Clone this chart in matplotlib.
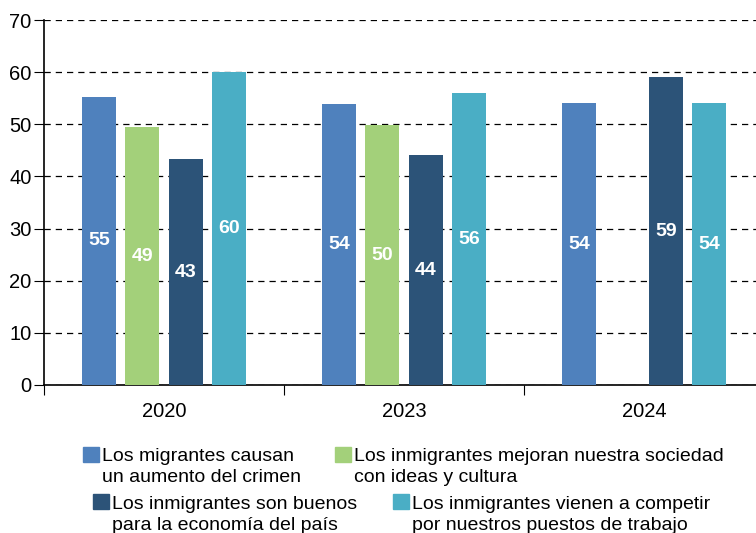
import numpy as np
import matplotlib.pyplot as plt
from matplotlib.patches import Rectangle

plt.rcParams['font.family'] = ['Liberation Sans', 'DejaVu Sans']

# Datos
anios = ['2020', '2023', '2024']
crimen = [55.3, 53.8, 54.0]
cultura = [49.4, 49.8, np.nan]
economia = [43.3, 44.1, 59.0]
trabajo = [60.0, 56.0, 54.0]
etiquetas_crimen = ['55', '54', '54']
etiquetas_cultura = ['49', '50', '']
etiquetas_economia = ['43', '44', '59']
etiquetas_trabajo = ['60', '56', '54']

series = [crimen, cultura, economia, trabajo]
etiquetas = [etiquetas_crimen, etiquetas_cultura, etiquetas_economia, etiquetas_trabajo]
colores = ['#4F81BD', '#A3D07A', '#2C5378', '#4AAEC5']
leyenda = [
    ['Los migrantes causan', 'un aumento del crimen'],
    ['Los inmigrantes mejoran nuestra sociedad', 'con ideas y cultura'],
    ['Los inmigrantes son buenos', 'para la economía del país'],
    ['Los inmigrantes vienen a competir', 'por nuestros puestos de trabajo'],
]

W, H = 756, 533
fig = plt.figure(figsize=(W / 100, H / 100), dpi=100)
ax = fig.add_axes([44 / W, (H - 385) / H, 720 / W, 365 / H])

x = np.arange(len(anios))
ancho = 0.142
desp = [-0.271, -0.09, 0.092, 0.271]
for vals, etq, col, d in zip(series, etiquetas, colores, desp):
    ax.bar(x + d, vals, width=ancho, color=col, zorder=3)
    for xi, v, t in zip(x, vals, etq):
        if t:
            ax.text(xi + d, v / 2, t, color='white', fontsize=14,
                    fontweight='bold', ha='center', va='center', zorder=4)

ax.set_xlim(-0.5, 2.5)
ax.set_ylim(0, 70)
ax.set_yticks(range(0, 71, 10))
ax.yaxis.grid(True, linestyle=(0, (5, 4)), color='black', linewidth=0.9, zorder=0)
ax.set_axisbelow(True)

ax.set_xticks([-0.5, 0.5, 1.5, 2.5])
ax.set_xticklabels([])
ax.tick_params(axis='x', length=7, direction='out', color='black')
ax.set_xticks(x, minor=True)
ax.set_xticklabels(anios, minor=True, fontsize=14.5)
ax.tick_params(axis='x', which='minor', length=0, pad=12)
ax.tick_params(axis='y', length=7, labelsize=14.5, pad=2)

for lado in ['top', 'right']:
    ax.spines[lado].set_visible(False)
ax.spines['left'].set_linewidth(1.2)
ax.spines['bottom'].set_linewidth(1.2)


# Leyenda manual en coordenadas de píxel
def px(xp, yp):
    return xp / W, 1 - yp / H


pos = [(83, 447, 102, 461), (335, 447, 354, 461),
       (93, 494, 112, 509), (393, 494, 412, 509)]
for (sx, sy, tx, ty), col, lineas in zip(pos, colores, leyenda):
    fx, fy = px(sx, sy + 15)
    fig.add_artist(Rectangle((fx, fy), 16 / W, 15 / H, transform=fig.transFigure,
                             color=col))
    for k, linea in enumerate(lineas):
        fx, fy = px(tx, ty + 21 * k)
        fig.text(fx, fy, linea, fontsize=14, ha='left', va='baseline')

fig.savefig('out.png', dpi=100)
